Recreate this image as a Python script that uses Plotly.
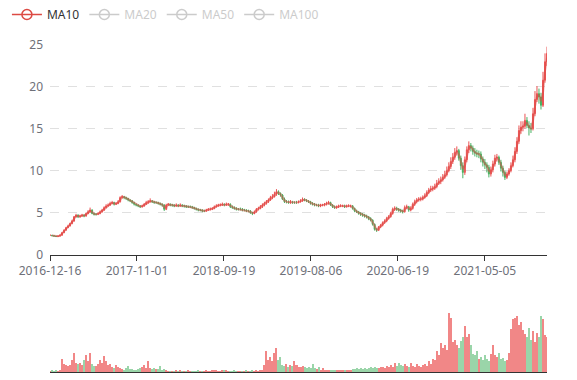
import plotly.graph_objects as go
import pandas as pd

# ---------------- data ----------------
TICK_LABELS = ["2016-12-16", "2017-11-01", "2018-09-19", "2019-08-06", "2020-06-19", "2021-05-05"]
CANDLES_PER_TICK = 43.4  # candles between two labelled dates

CLOSE = [
    2.3, 2.25, 2.2, 2.15, 2.2, 2.3, 2.6, 2.9, 3.2, 3.4,
    3.7, 4.0, 4.5, 4.7, 4.5, 4.6, 4.7, 4.6, 4.9, 5.1,
    5.3, 4.9, 4.8, 4.8, 4.9, 5.1, 5.3, 5.6, 5.8, 5.9,
    6.1, 6.2, 6.0, 6.1, 6.3, 6.8, 6.9, 6.8, 6.7, 6.5,
    6.4, 6.2, 6.0, 5.9, 5.8, 5.7, 5.8, 6.0, 6.2, 6.3,
    6.4, 6.3, 6.2, 6.2, 6.1, 6.0, 5.9, 5.4, 5.9, 6.0,
    5.9, 5.9, 5.8, 5.9, 5.8, 5.9, 5.8, 5.8, 5.7, 5.7,
    5.7, 5.6, 5.5, 5.4, 5.3, 5.3, 5.2, 5.2, 5.3, 5.4,
    5.4, 5.5, 5.7, 5.8, 5.9, 5.9, 6.0, 5.9, 6.0, 6.0,
    5.7, 5.6, 5.5, 5.4, 5.4, 5.4, 5.3, 5.3, 5.2, 5.2,
    5.0, 4.9, 5.1, 5.4, 5.5, 5.7, 5.9, 6.1, 6.3, 6.5,
    6.8, 6.9, 7.2, 7.5, 7.3, 7.1, 6.6, 6.3, 6.3, 6.2,
    6.3, 6.2, 6.2, 6.2, 6.3, 6.4, 6.6, 6.5, 6.4, 6.3,
    6.1, 6.0, 5.9, 5.9, 5.8, 5.9, 5.9, 6.0, 6.1, 6.2,
    5.9, 5.7, 5.6, 5.7, 5.8, 5.8, 5.8, 5.7, 5.8, 5.8,
    5.8, 5.5, 5.2, 5.1, 4.9, 4.8, 4.7, 4.6, 4.5, 4.3,
    4.1, 3.6, 3.0, 2.9, 3.3, 3.5, 3.8, 4.0, 4.3, 4.5,
    4.9, 5.4, 5.5, 5.4, 5.3, 5.2, 5.1, 5.6, 5.7, 5.3,
    5.5, 6.0, 6.3, 6.5, 6.6, 6.6, 6.8, 7.0, 7.4, 7.7,
    7.8, 7.9, 8.1, 8.5, 8.7, 8.9, 9.2, 9.5, 10.0, 10.5,
    11.1, 11.6, 12.2, 12.4, 11.5, 10.6, 9.8, 11.3, 12.5, 13.0,
    12.7, 12.3, 12.1, 12.0, 12.0, 11.4, 11.0, 10.7, 10.4, 9.6,
    10.1, 10.8, 11.5, 11.6, 11.0, 10.3, 9.8, 9.2, 9.6, 10.0,
    10.6, 11.3, 12.3, 13.5, 14.8, 15.2, 15.3, 16.0, 15.4, 15.1,
    15.0, 16.8, 18.5, 19.2, 18.8, 17.8, 20.8, 23.0, 24.0,
]

HIGH = [
    2.38, 2.33, 2.28, 2.24, 2.27, 2.4, 2.7, 3.0, 3.3, 3.55,
    3.8, 4.15, 4.6, 4.85, 4.8, 4.75, 4.85, 4.8, 5.0, 5.3,
    5.6, 5.4, 5.0, 4.95, 5.05, 5.25, 5.45, 5.75, 6.0, 6.1,
    6.3, 6.4, 6.3, 6.25, 6.5, 6.95, 7.1, 7.0, 6.9, 6.75,
    6.6, 6.5, 6.3, 6.1, 6.0, 5.9, 5.95, 6.15, 6.4, 6.5,
    6.7, 6.5, 6.4, 6.35, 6.3, 6.2, 6.1, 6.0, 6.05, 6.15,
    6.1, 6.05, 6.0, 6.1, 6.0, 6.1, 6.0, 5.95, 5.9, 5.85,
    5.85, 5.8, 5.7, 5.6, 5.5, 5.45, 5.4, 5.35, 5.45, 5.55,
    5.6, 5.65, 5.85, 6.0, 6.05, 6.1, 6.2, 6.1, 6.2, 6.15,
    6.1, 5.85, 5.75, 5.65, 5.55, 5.6, 5.55, 5.45, 5.4, 5.35,
    5.3, 5.1, 5.25, 5.55, 5.7, 5.9, 6.1, 6.3, 6.5, 6.7,
    7.0, 7.2, 7.5, 7.8, 7.65, 7.4, 7.2, 6.8, 6.5, 6.45,
    6.5, 6.4, 6.35, 6.4, 6.45, 6.6, 6.8, 6.7, 6.6, 6.5,
    6.4, 6.25, 6.15, 6.05, 6.05, 6.05, 6.05, 6.15, 6.3, 6.4,
    6.3, 6.0, 5.85, 5.85, 5.95, 6.0, 5.95, 5.95, 5.95, 6.0,
    5.95, 5.9, 5.6, 5.35, 5.2, 5.05, 4.95, 4.85, 4.75, 4.6,
    4.45, 4.2, 3.7, 3.15, 3.4, 3.65, 3.95, 4.2, 4.5, 4.7,
    5.1, 5.6, 5.75, 5.7, 5.55, 5.45, 5.35, 5.85, 5.95, 5.8,
    5.75, 6.2, 6.55, 6.75, 6.85, 6.9, 7.05, 7.3, 7.65, 7.95,
    8.2, 8.2, 8.45, 8.9, 9.1, 9.3, 9.6, 10.0, 10.5, 11.0,
    11.6, 12.1, 12.7, 12.9, 12.6, 11.8, 11.0, 11.7, 12.9, 13.5,
    13.3, 13.0, 12.7, 12.5, 12.4, 12.3, 11.7, 11.4, 11.0, 10.7,
    10.5, 11.2, 11.9, 12.0, 11.8, 11.3, 10.6, 10.0, 9.9, 10.3,
    11.0, 11.8, 12.8, 14.0, 15.4, 15.9, 15.9, 16.8, 16.4, 15.9,
    15.7, 17.5, 19.5, 20.1, 19.8, 19.3, 21.8, 24.0, 24.8,
]

LOW = [
    2.22, 2.18, 2.12, 2.08, 2.1, 2.15, 2.25, 2.55, 2.85, 3.15,
    3.35, 3.6, 3.9, 4.4, 4.35, 4.4, 4.5, 4.45, 4.5, 4.8,
    5.0, 4.8, 4.65, 4.65, 4.7, 4.8, 5.0, 5.2, 5.5, 5.7,
    5.8, 6.0, 5.85, 5.9, 6.0, 6.2, 6.65, 6.6, 6.5, 6.35,
    6.25, 6.05, 5.85, 5.75, 5.65, 5.55, 5.6, 5.7, 5.9, 6.05,
    6.2, 6.15, 6.05, 6.05, 5.95, 5.85, 5.7, 5.2, 5.3, 5.8,
    5.75, 5.7, 5.65, 5.7, 5.65, 5.7, 5.65, 5.6, 5.55, 5.55,
    5.55, 5.45, 5.35, 5.25, 5.15, 5.15, 5.05, 5.05, 5.1, 5.2,
    5.25, 5.3, 5.4, 5.6, 5.7, 5.75, 5.8, 5.75, 5.8, 5.8,
    5.55, 5.45, 5.35, 5.25, 5.25, 5.25, 5.15, 5.15, 5.05, 5.05,
    4.85, 4.7, 4.8, 5.0, 5.25, 5.4, 5.55, 5.75, 5.95, 6.15,
    6.4, 6.6, 6.8, 7.0, 7.1, 6.9, 6.5, 6.15, 6.1, 6.05,
    6.05, 6.05, 6.05, 6.05, 6.1, 6.2, 6.3, 6.35, 6.25, 6.15,
    5.95, 5.85, 5.75, 5.75, 5.65, 5.65, 5.75, 5.75, 5.85, 5.95,
    5.8, 5.55, 5.45, 5.45, 5.55, 5.65, 5.65, 5.55, 5.6, 5.65,
    5.6, 5.35, 5.05, 4.95, 4.75, 4.6, 4.5, 4.4, 4.3, 4.1,
    3.95, 3.45, 2.85, 2.7, 2.8, 3.15, 3.35, 3.65, 3.85, 4.15,
    4.4, 4.75, 5.2, 5.2, 5.1, 5.0, 4.9, 5.0, 5.4, 5.1,
    5.15, 5.35, 5.8, 6.1, 6.3, 6.35, 6.45, 6.65, 6.85, 7.2,
    7.45, 7.55, 7.7, 7.9, 8.3, 8.4, 8.7, 9.0, 9.3, 9.8,
    10.2, 10.8, 11.3, 11.8, 11.2, 10.1, 9.1, 9.5, 11.0, 12.1,
    12.3, 11.9, 11.7, 11.6, 11.5, 11.0, 10.5, 10.2, 9.8, 9.2,
    9.3, 9.8, 10.5, 11.1, 10.7, 9.9, 9.3, 8.9, 9.0, 9.4,
    9.8, 10.4, 11.0, 12.0, 13.2, 14.4, 14.7, 15.0, 15.1, 14.2,
    14.5, 14.8, 16.5, 18.2, 18.0, 17.3, 17.6, 20.5, 22.5,
]

VOLUME = [
    2, 3, 2, 3, 2, 4, 22, 14, 12, 10,
    12, 21, 33, 15, 14, 16, 12, 20, 28, 18,
    32, 14, 11, 10, 13, 20, 16, 27, 18, 12,
    14, 9, 7, 12, 8, 6, 5, 4, 6, 10,
    5, 5, 4, 3, 5, 7, 8, 12, 6, 18,
    7, 5, 6, 5, 5, 10, 4, 5, 3, 2,
    2, 2, 2, 4, 2, 3, 2, 2, 2, 3,
    2, 2, 2, 2, 3, 2, 2, 2, 3, 2,
    2, 3, 4, 3, 2, 2, 3, 4, 3, 2,
    2, 2, 3, 2, 2, 2, 2, 2, 3, 2,
    2, 3, 2, 3, 2, 4, 4, 12, 36, 20,
    25, 18, 32, 40, 20, 25, 12, 10, 14, 8,
    12, 10, 18, 12, 9, 8, 10, 8, 6, 9,
    7, 14, 6, 5, 8, 4, 6, 3, 4, 3,
    3, 4, 3, 3, 3, 4, 3, 3, 4, 3,
    4, 5, 5, 6, 5, 6, 5, 7, 5, 6,
    8, 7, 9, 6, 7, 9, 8, 6, 10, 8,
    12, 9, 15, 10, 16, 12, 10, 14, 11, 9,
    15, 10, 8, 14, 10, 9, 12, 14, 10, 18,
    14, 22, 20, 35, 28, 49, 40, 45, 38, 100,
    91, 50, 55, 45, 40, 52, 60, 78, 60, 65,
    45, 30, 28, 35, 22, 25, 20, 28, 22, 18,
    30, 46, 28, 25, 32, 22, 24, 18, 20, 32,
    73, 90, 92, 95, 80, 85, 72, 65, 60, 75,
    55, 69, 50, 66, 60, 95, 90, 62, 60,
]

MA_NAMES = ["MA10", "MA20", "MA50", "MA100"]
MA_WINDOWS = [2, 4, 10, 20]  # in candles (each candle ~5 trading days)
MA_SELECTED = [True, False, False, False]

assert len(CLOSE) == len(VOLUME) == len(HIGH) == len(LOW)

# ---------------- derived ----------------
n = len(CLOSE)
idx = list(range(n))
opens = [CLOSE[0]] + CLOSE[:-1]
highs = [max(h, o, c) for h, o, c in zip(HIGH, opens, CLOSE)]
lows = [min(l, o, c) for l, o, c in zip(LOW, opens, CLOSE)]
is_up = [c >= o for o, c in zip(opens, CLOSE)]

UP = "#eb5454"
DOWN = "#47b262"
MA_COLOR = "#dc4a43"
OFF = "#999999"

s = pd.Series(CLOSE)

fig = go.Figure()

fig.add_trace(go.Candlestick(
    x=idx, open=opens, high=highs, low=lows, close=CLOSE,
    increasing=dict(line=dict(color=UP, width=1), fillcolor=UP),
    decreasing=dict(line=dict(color=DOWN, width=1), fillcolor=DOWN),
    whiskerwidth=0, showlegend=False, xaxis="x", yaxis="y",
))

for name, w, sel in zip(MA_NAMES, MA_WINDOWS, MA_SELECTED):
    ma = s.rolling(w, min_periods=w).mean()
    fig.add_trace(go.Scatter(
        x=idx, y=ma, mode="lines", showlegend=False, visible=sel,
        line=dict(color="rgba(220,74,67,0.5)", width=2),
        hoverinfo="skip", xaxis="x", yaxis="y", legendgroup=name,
    ))
    col = MA_COLOR if sel else OFF
    label = name if sel else f'<span style="color:{OFF}">{name}</span>'
    fig.add_trace(go.Scatter(
        x=[None], y=[None], mode="lines+markers", name=label,
        visible=True if sel else "legendonly", legendgroup=name,
        line=dict(color=col, width=1.5),
        marker=dict(symbol="circle-open", size=10, color=col, line=dict(width=1.5)),
        xaxis="x", yaxis="y",
    ))

fig.add_trace(go.Bar(
    x=idx, y=VOLUME,
    marker=dict(color=["rgba(235,84,84,0.7)" if u else "rgba(71,178,98,0.55)" for u in is_up],
                line=dict(width=0)),
    showlegend=False, xaxis="x2", yaxis="y2", hoverinfo="skip",
))

font_family = "Noto Sans, Open Sans, sans-serif"
axis_text = "#6E7079"

fig.update_layout(
    width=577, height=380,
    margin=dict(l=50, r=30, t=45, b=8),
    paper_bgcolor="white", plot_bgcolor="white",
    font=dict(family=font_family, size=12, color="#333"),
    bargap=0,
    legend=dict(
        orientation="h", xref="container", yref="container",
        x=0.012, y=1.0, xanchor="left", yanchor="top",
        itemwidth=30,
        font=dict(size=12, color="#333"), bgcolor="rgba(0,0,0,0)",
        itemclick=False, itemdoubleclick=False,
    ),
    xaxis=dict(
        domain=[0, 1], anchor="y", range=[0, n - 1], automargin=False,
        tickvals=[i * CANDLES_PER_TICK for i in range(len(TICK_LABELS))],
        ticktext=TICK_LABELS,
        ticks="outside", ticklen=5, tickcolor="#333",
        showline=True, linecolor="#333", linewidth=1,
        showgrid=False, zeroline=False,
        rangeslider=dict(visible=False),
        tickfont=dict(size=12, color=axis_text),
    ),
    yaxis=dict(
        domain=[0.3593, 1], anchor="x", range=[0, 25], dtick=5, automargin=False,
        showgrid=True, gridcolor="#e0e0e0", griddash="dash", gridwidth=1,
        zeroline=False, showline=False, ticks="",
        ticklabelstandoff=6,
        tickfont=dict(size=12, color=axis_text),
    ),
    xaxis2=dict(
        domain=[0, 1], anchor="y2", range=[0, n - 1], automargin=False,
        showticklabels=False, ticks="", showline=True, linecolor="#333",
        linewidth=1, showgrid=False, zeroline=False,
    ),
    yaxis2=dict(
        domain=[0, 0.2263], anchor="x2", range=[0, 125.4], automargin=False,
        showticklabels=False, showgrid=False, zeroline=False, showline=False, ticks="",
    ),
)

fig.write_html("out.html", config={"displayModeBar": False},
               post_script="document.body.style.margin='0px';")
